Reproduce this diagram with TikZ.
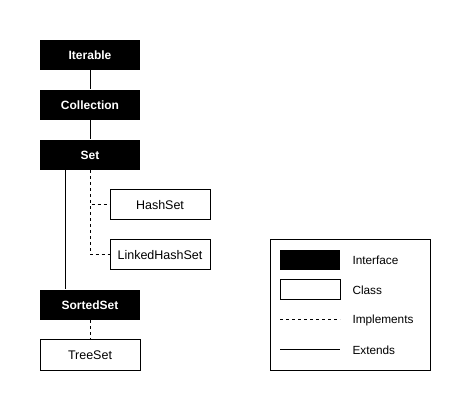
\documentclass[tikz,border=0pt]{standalone}
\usepackage{fontspec}
\setmainfont{Liberation Sans}
\usepackage{tikz}

\begin{document}
\begin{tikzpicture}[x=1pt,y=-1pt,line width=1pt,
  iface/.style={rectangle,fill=black,text=white,minimum width=100pt,minimum height=30pt,inner sep=0pt,font=\fontsize{12}{14}\selectfont\bfseries},
  cls/.style={rectangle,draw=black,fill=white,minimum width=100pt,minimum height=30pt,inner sep=0pt,font=\fontsize{12.5}{14}\selectfont},
  impl/.style={dash pattern=on 3pt off 3pt},
  lbl/.style={anchor=west,inner sep=0pt,font=\fontsize{11.8}{13}\selectfont}]
\useasboundingbox (0,0) rectangle (471,411);

\node[iface] (iterable) at (90,55) {Iterable};
\node[iface] (collection) at (90,105) {Collection};
\node[iface] (set) at (90,155) {Set};
\node[cls] (hashset) at (160,205) {HashSet};
\node[cls] (linked) at (160,255) {LinkedHashSet};
\node[iface] (sortedset) at (90,305) {SortedSet};
\node[cls] (treeset) at (90,355) {TreeSet};

\draw (iterable) -- (collection);
\draw (collection) -- (set);
\draw ([xshift=-25pt]set.south) -- ([xshift=-25pt]sortedset.north);
\draw[impl] (set.south) |- (hashset.west);
\draw[impl] (set.south) |- (linked.west);
\draw[impl] (sortedset) -- (treeset);

% legend
\draw (270,240) rectangle (430,370);
\node[rectangle,fill=black,minimum width=60pt,minimum height=20pt,inner sep=0pt] (keyiface) at (310,260) {};
\node[rectangle,draw=black,fill=white,minimum width=60pt,minimum height=20pt,inner sep=0pt] (keycls) at (310,290) {};
\coordinate (implA) at (280,320);
\coordinate (implB) at (340,320);
\coordinate (extA) at (280,350);
\coordinate (extB) at (340,350);
\draw[impl] (implA) -- (implB);
\draw (extA) -- (extB);
\node[lbl] (txtiface) at (352,260) {Interface};
\node[lbl] (txtcls) at (352,290) {Class};
\node[lbl] (txtimpl) at (352,320) {Implements};
\node[lbl] (txtext) at (352,350) {Extends};
\end{tikzpicture}
\end{document}
